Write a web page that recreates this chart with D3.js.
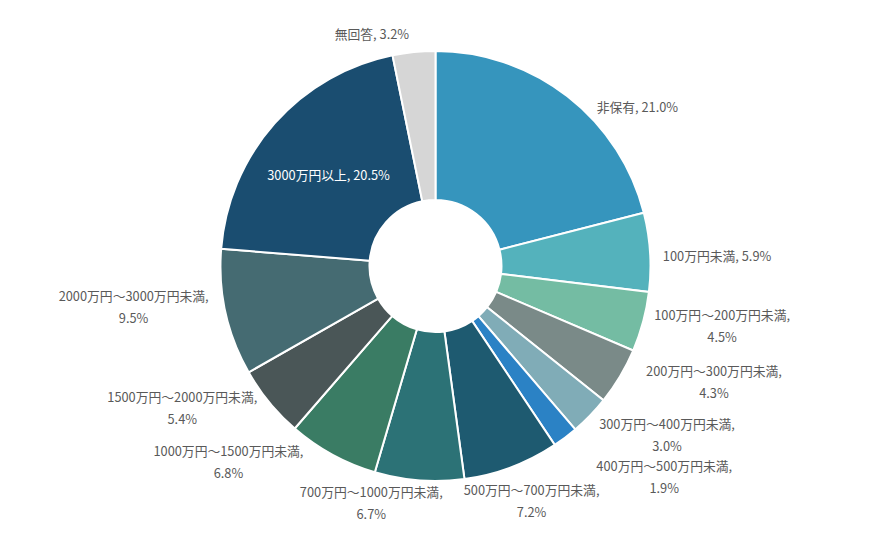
<!DOCTYPE html>
<html>
<head>
<meta charset="utf-8">
<script src="https://cdn.jsdelivr.net/npm/d3@7/dist/d3.min.js"></script>
<style>
  html, body { margin: 0; padding: 0; background: #ffffff; }
  svg { display: block; }
</style>
</head>
<body>
<svg id="chart" width="870" height="533"></svg>
<script>
// ---- data ----
const categories = [
  "非保有", "100万円未満", "100万円～200万円未満", "200万円～300万円未満",
  "300万円～400万円未満", "400万円～500万円未満", "500万円～700万円未満",
  "700万円～1000万円未満", "1000万円～1500万円未満", "1500万円～2000万円未満",
  "2000万円～3000万円未満", "3000万円以上", "無回答"
];
const values = [21.0, 5.9, 4.5, 4.3, 3.0, 1.9, 7.2, 6.7, 6.8, 5.4, 9.5, 20.5, 3.2];

// ---- styles / layout ----
const colors = [
  "#3695bd", "#54b2bc", "#74bca3", "#7a8a88", "#80acb7", "#2b82c5", "#1e5a70",
  "#2c7276", "#3a7c64", "#4a5657", "#456b72", "#1a4d70", "#d6d6d6"
];
// label block centre offsets from the outer edge point at each slice's mid-angle
const labelOffset = [
  [70, 10], [67, 3], [79, 3], [94, 5], [77, 19], [99, 39], [20, 33],
  [-48, 22], [-104, 6], [-87, 5], [-92, -7], [54, 51], [-42, -19]
];
const insideLabel = [false, false, false, false, false, false, false, false, false, false, false, true, false];

const cx = 435.5, cy = 266, R = 215, r0 = 66;
const fmt = d3.format(".1f");

const svg = d3.select("#chart");
const g = svg.append("g").attr("transform", `translate(${cx},${cy})`);

const pie = d3.pie().sort(null).value(d => d);
const arcs = pie(values);
const arc = d3.arc().innerRadius(r0).outerRadius(R);

g.selectAll("path.slice")
  .data(arcs)
  .join("path")
  .attr("class", "slice")
  .attr("d", arc)
  .attr("fill", (d, i) => colors[i])
  .attr("stroke", "#ffffff")
  .attr("stroke-width", 2)
  .attr("stroke-linejoin", "miter");

const labels = g.selectAll("text.lbl")
  .data(arcs)
  .join("text")
  .attr("class", "lbl")
  .attr("font-family", "'Noto Sans CJK JP', 'Noto Sans', sans-serif")
  .attr("font-size", 12.8)
  .attr("fill", (d, i) => insideLabel[i] ? "#ffffff" : "#595959")
  .attr("text-anchor", "middle")
  .attr("dominant-baseline", "central")
  .attr("transform", (d, i) => {
    const a = (d.startAngle + d.endAngle) / 2;
    const x = R * Math.sin(a) + labelOffset[i][0];
    const y = -R * Math.cos(a) + labelOffset[i][1];
    return `translate(${x},${y})`;
  });

labels.each(function(d, i) {
  const t = d3.select(this);
  const name = categories[i];
  const pct = fmt(values[i]) + "%";
  if (name.includes("～")) {
    t.append("tspan").attr("x", 0).attr("y", -11).text(name + ",");
    t.append("tspan").attr("x", 0).attr("y", 11).text(pct);
  } else {
    t.append("tspan").attr("x", 0).attr("y", 0).text(name + ", " + pct);
  }
});
</script>
</body>
</html>
